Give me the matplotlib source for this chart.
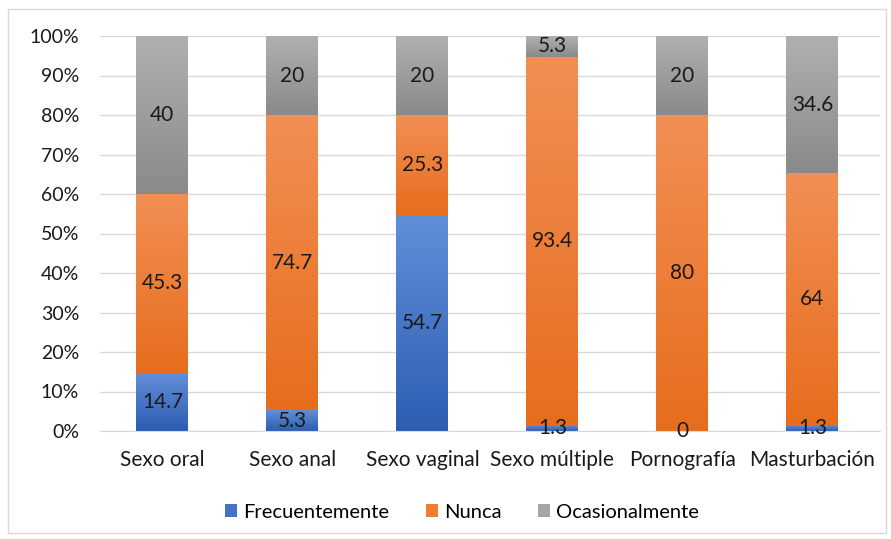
import matplotlib
matplotlib.use("Agg")
import matplotlib.pyplot as plt
import numpy as np
from matplotlib.patches import Patch
from matplotlib.colors import LinearSegmentedColormap

categories = ["Sexo oral", "Sexo anal", "Sexo vaginal", "Sexo múltiple", "Pornografía", "Masturbación"]
frecuentemente = [14.7, 5.3, 54.7, 1.3, 0, 1.3]
nunca = [45.3, 74.7, 25.3, 93.4, 80, 64]
ocasionalmente = [40, 20, 20, 5.3, 20, 34.6]
series_names = ["Frecuentemente", "Nunca", "Ocasionalmente"]

grads = [("#628fd8", "#2d5db2"), ("#f28f55", "#e66d1c"), ("#b0b0b0", "#8a8a8a")]
legend_colors = ["#4472c4", "#ed7d31", "#a5a5a5"]

plt.rcParams['font.family'] = ['Lato', 'DejaVu Sans']
fig = plt.figure(figsize=(8.91, 5.39), dpi=100)
ax = fig.add_axes([100 / 891, 1 - 431 / 539, 780 / 891, 395 / 539])

x = np.arange(len(categories))
width = 0.4
bottom = np.zeros(len(categories))
data = [frecuentemente, nunca, ocasionalmente]
for vals, (ctop, cbot), name in zip(data, grads, series_names):
    vals = np.array(vals, dtype=float)
    bars = ax.bar(x, vals, width, bottom=bottom, color="none", edgecolor="none", label=name)
    cmap = LinearSegmentedColormap.from_list("g", [cbot, ctop])
    grad = np.linspace(0, 1, 256).reshape(-1, 1)
    for b, v, bt in zip(bars, vals, bottom):
        if v > 0:
            x0, y0 = b.get_x(), b.get_y()
            ax.imshow(grad, cmap=cmap, origin="lower", aspect="auto",
                      extent=[x0, x0 + b.get_width(), y0, y0 + b.get_height()], zorder=2)
        lbl = f"{v:g}"
        ax.text(b.get_x() + b.get_width() / 2, bt + v / 2, lbl, ha="center", va="center",
                fontsize=15, color="#1a1a1a", zorder=4)
    bottom = bottom + vals

ax.set_xlim(-0.48, 5.52)
ax.set_ylim(0, 100)
ax.set_yticks(np.arange(0, 101, 10))
ax.set_yticklabels([f"{t}%" for t in range(0, 101, 10)], fontsize=14, color="#1a1a1a")
ax.set_xticks(x)
ax.set_xticklabels(categories, fontsize=15, color="#1a1a1a")
ax.tick_params(axis="both", length=0)
ax.tick_params(axis="x", pad=14)
ax.tick_params(axis="y", pad=15)
ax.grid(axis="y", color="#d9d9d9", linewidth=1, zorder=0)
ax.set_axisbelow(True)
for s in ["top", "right", "left"]:
    ax.spines[s].set_visible(False)
ax.spines["bottom"].set_color("#d9d9d9")

handles = [Patch(facecolor=c, edgecolor="none") for c in legend_colors]
fig.legend(handles, series_names, loc="center", bbox_to_anchor=(462 / 891, 1 - 512 / 539), ncol=3,
           frameon=False, fontsize=14.5, handlelength=0.6, handleheight=0.6,
           columnspacing=1.8, handletextpad=0.3)

border = plt.Rectangle((0.009, 0.012), 0.985, 0.971, transform=fig.transFigure,
                       fill=False, edgecolor="#d9d9d9", linewidth=1)
fig.add_artist(border)

fig.savefig("out.png", dpi=100)
